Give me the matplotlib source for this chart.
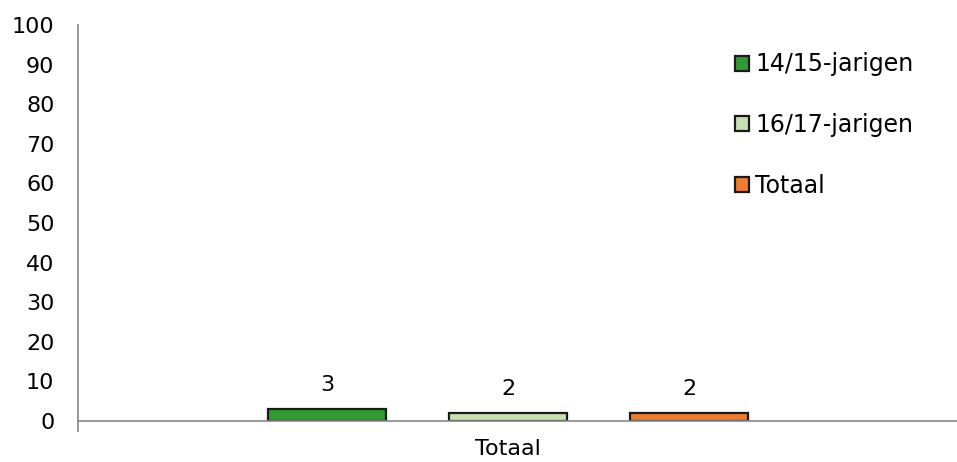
import numpy as np
import matplotlib.pyplot as plt

# data
categorie = ['Totaal']
reeksen = ['14/15-jarigen', '16/17-jarigen', 'Totaal']
waarden = [3, 2, 2]
kleuren = ['#339933', '#c6e0b4', '#ed7d31']
y_ticks = list(range(0, 101, 10))

plt.rcParams['font.family'] = ['DejaVu Sans']

fig = plt.figure(figsize=(9.57, 4.62), dpi=100)
ax = fig.add_axes([0.0815, 0.0887, 0.9185, 0.857])

posities = np.array([-1, 0, 1])
bars = ax.bar(posities, waarden, width=0.652, color=kleuren,
              edgecolor='#1a1a1a', linewidth=1.6)
ax.bar_label(bars, labels=[str(v) for v in waarden], padding=10, fontsize=16)

ax.set_xlim(-2.376, 2.48)
ax.set_ylim(0, 100)
ax.set_yticks(y_ticks)
ax.set_xticks([0])
ax.set_xticklabels(categorie)
ax.tick_params(axis='y', length=0, pad=17, labelsize=16)
ax.tick_params(axis='x', length=0, pad=13, labelsize=16)
ax.set_xticks([-2.376], minor=True)
ax.tick_params(axis='x', which='minor', length=8, width=1.2, color='#888888')

for s in ['top', 'right']:
    ax.spines[s].set_visible(False)
for s in ['left', 'bottom']:
    ax.spines[s].set_color('#888888')
    ax.spines[s].set_linewidth(1.2)

ax.legend(handles=list(bars), labels=reeksen, loc='upper left',
          bbox_to_anchor=(0.737, 0.955), frameon=False, fontsize=17,
          handlelength=0.6, handleheight=0.6, handletextpad=0.25,
          labelspacing=1.55, borderaxespad=0)

plt.savefig('out.png', dpi=100)
